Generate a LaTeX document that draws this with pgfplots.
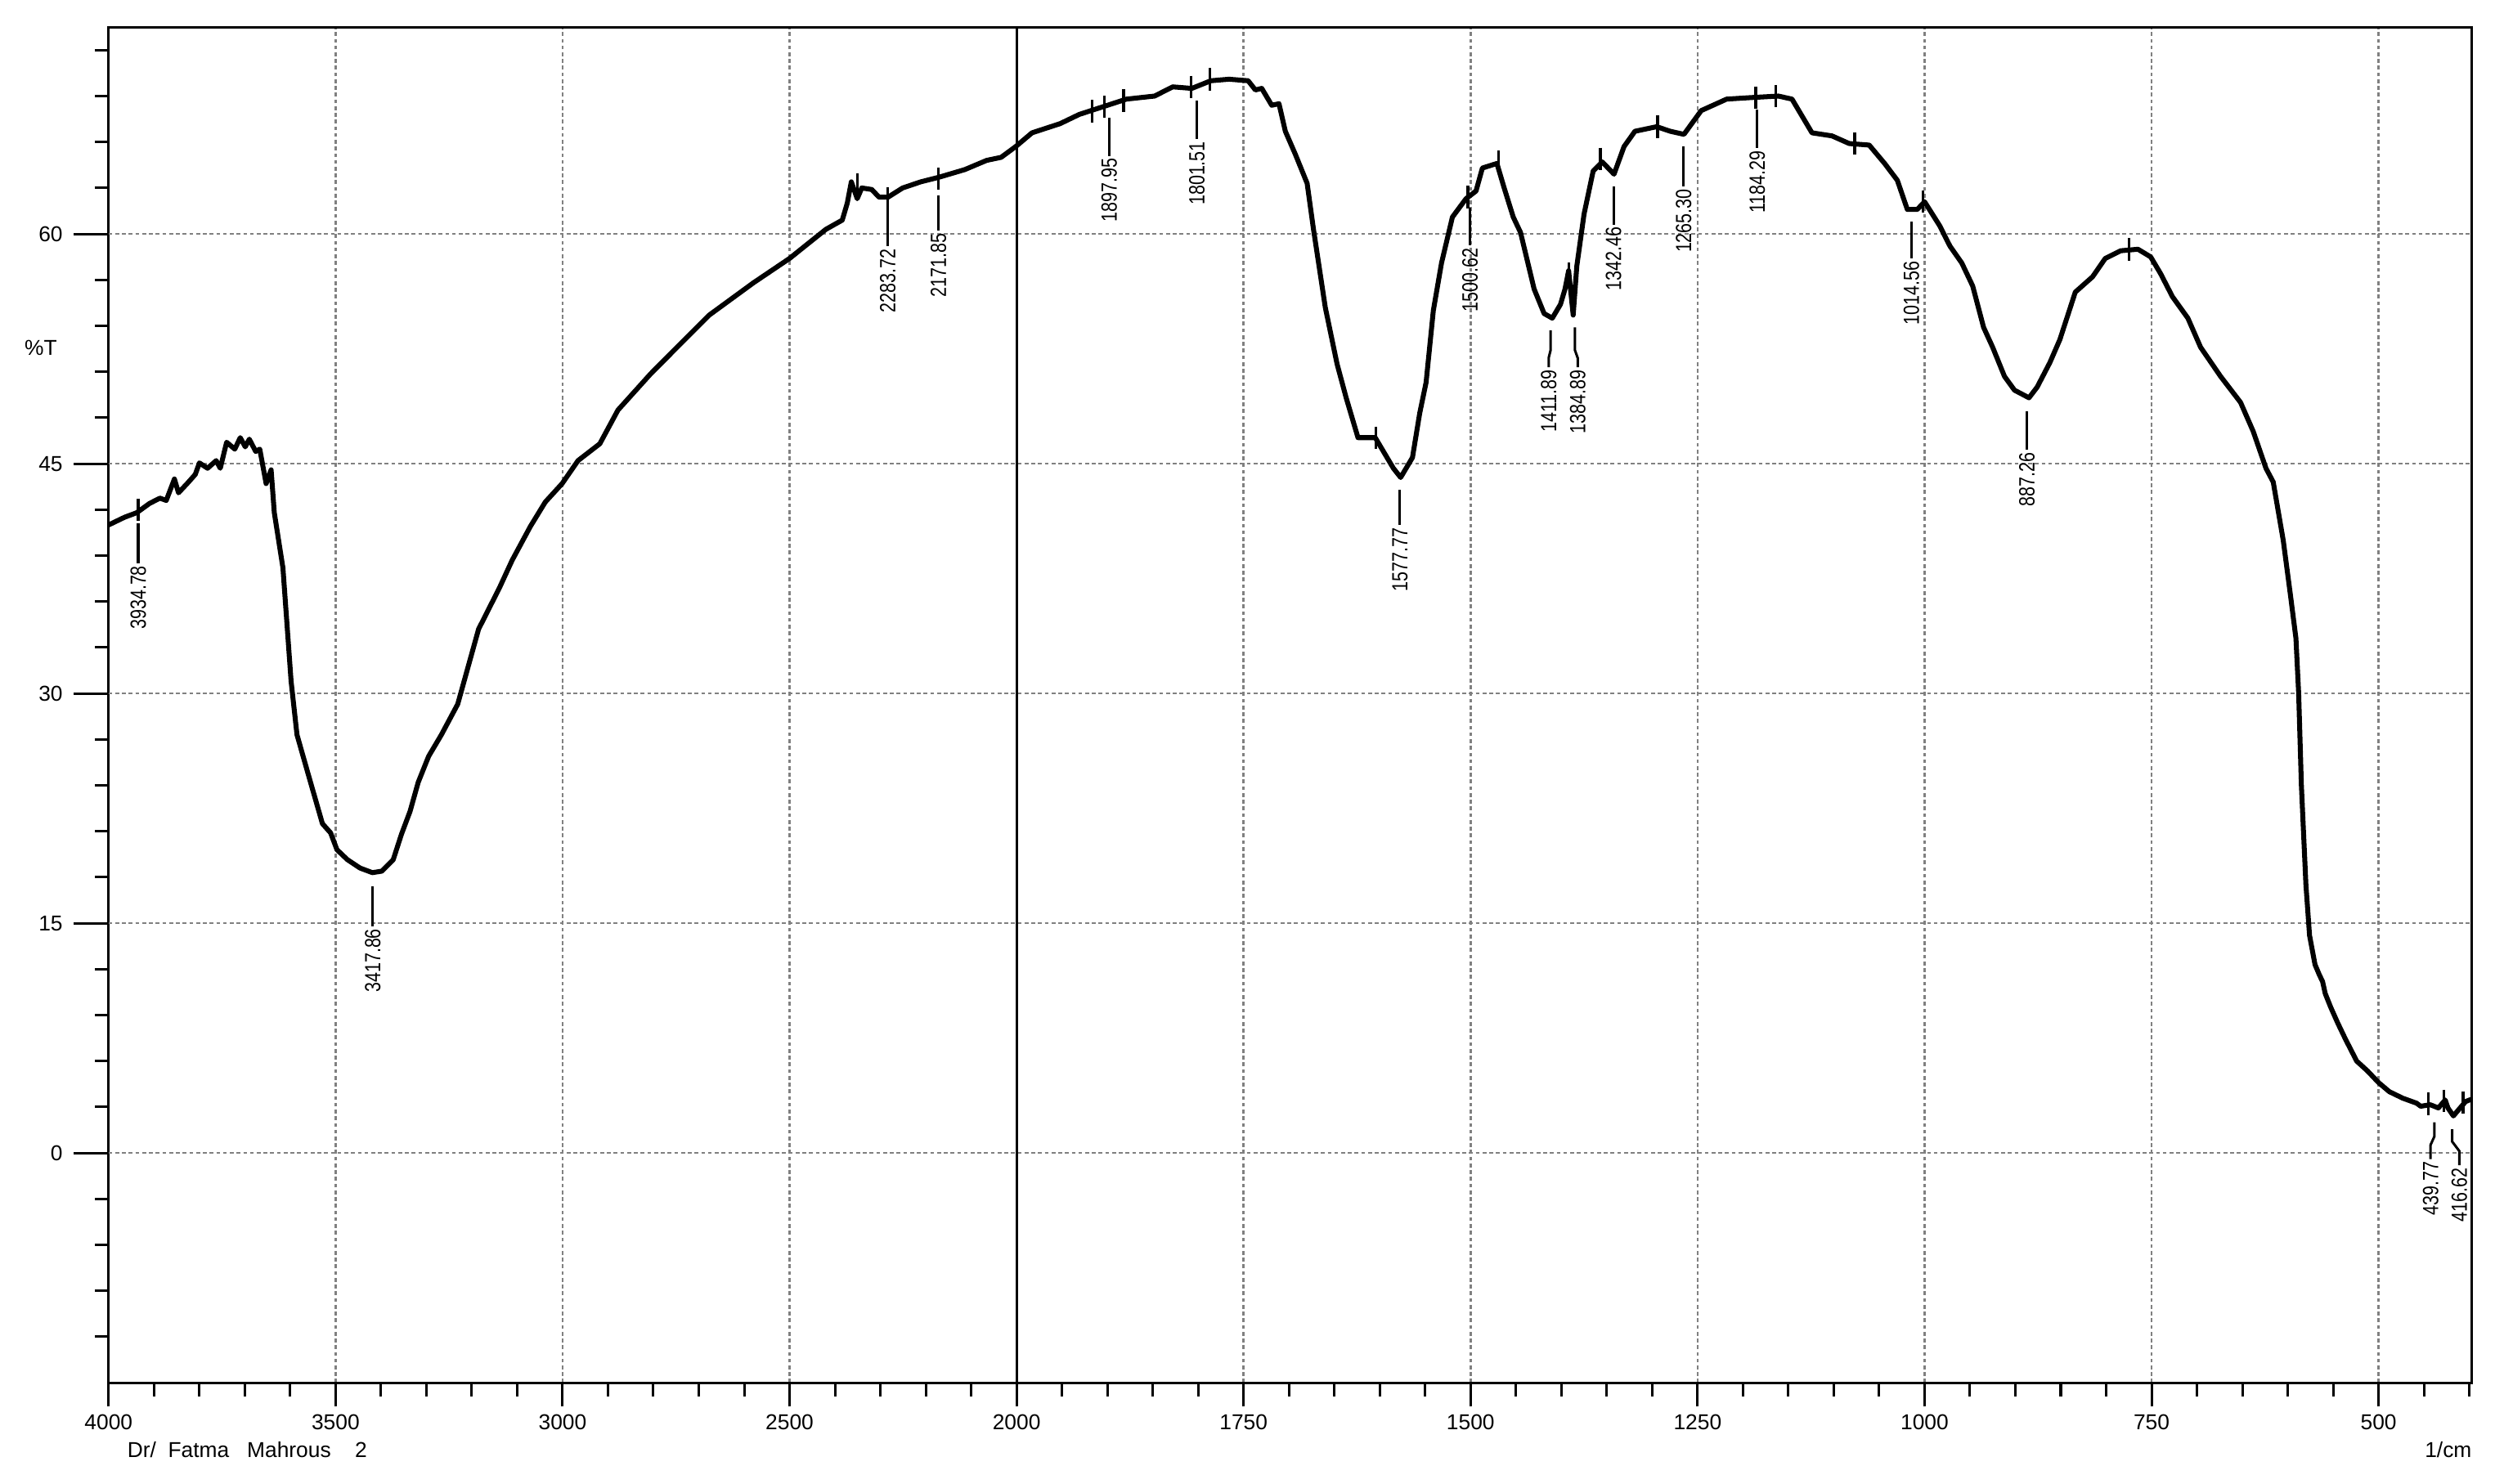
\documentclass[border=0pt]{standalone}
\usepackage{pgfplots}
\pgfplotsset{compat=1.18}
\usepackage{graphicx}
\usepackage{fontspec}
\setmainfont{Liberation Sans}

\newcommand\tickfont{\fontsize{9.6pt}{11pt}\selectfont}
\newcommand\pkfont{\fontsize{9.8pt}{11pt}\selectfont}
% peak leader line + rotated wavenumber label
\newcommand\pk[4]{%
  \draw[line width=1.1pt] (axis cs:#1,#2) -- (axis cs:#1,#3)
    node[rotate=90, anchor=east, inner sep=0.6pt, font=\pkfont] {\scalebox{0.8}[1]{#4}};}

\begin{document}
\begin{tikzpicture}
\begin{axis}[
    scale only axis,
    width=37cm, height=21.225cm,
    x coord trafo/.code={\pgfmathparse{ifthenelse(#1>=2000,(4000-#1)/2,3000-#1)}},
    xmin=4000, xmax=397,
    ymin=-15, ymax=73.5,
    axis line style={line width=1.1pt},
    tick align=outside,
    xtick pos=bottom, ytick pos=left,
    xtick={4000,3500,3000,2500,2000,1750,1500,1250,1000,750,500},
    xticklabels={4000,3500,3000,2500,2000,1750,1500,1250,1000,750,500},
    minor xtick={3900,3800,3700,3600,3400,3300,3200,3100,2900,2800,2700,2600,2400,2300,2200,2100,
      1950,1900,1850,1800,1700,1650,1600,1550,1450,1400,1350,1300,1200,1150,1100,1050,
      950,900,850,800,700,650,600,550,450,400},
    ytick={0,15,30,45,60},
    minor ytick={-12,-9,-6,-3,3,6,9,12,18,21,24,27,33,36,39,42,48,51,54,57,63,66,69,72},
    extra y ticks={0,15,30,45,60},
    extra y tick labels={},
    extra y tick style={major tick length=0.55cm},
    major tick length=0.375cm,
    minor tick length=0.21cm,
    every tick/.style={black, line width=1.1pt},
    xmajorgrids, ymajorgrids,
    major grid style={color=black!50, dash pattern=on 1.7pt off 1.3pt, line width=0.95pt},
    /pgf/number format/assume math mode=true,
    tick label style={font=\tickfont},
    yticklabel style={xshift=-0.22cm},
]

% transmittance spectrum
\addplot[black, line width=2.2pt, line join=round] coordinates {
(4000,41.0) (3993,41.1) (3965,41.5) (3938,41.8) (3910,42.4) (3887,42.75) (3873,42.6)
(3855,44.0) (3846,43.1) (3827,43.7) (3809,44.3) (3800,45.05) (3782,44.7) (3763,45.2)
(3754,44.7) (3740,46.4) (3722,45.95) (3710,46.7) (3699,46.1) (3690,46.6) (3676,45.8)
(3667,45.95) (3653,43.7) (3642,44.6) (3635,41.8) (3616,38.2) (3598,30.8) (3585,27.3)
(3561,24.8) (3529,21.5) (3511,20.9) (3497,19.8) (3474,19.15) (3446,18.6) (3419,18.3)
(3398,18.4) (3373,19.15) (3355,20.8) (3336,22.3) (3318,24.2) (3295,25.9) (3267,27.3)
(3231,29.3) (3185,34.2) (3139,36.9) (3111,38.7) (3071,40.9) (3038,42.5) (3001,43.7)
(2966,45.2) (2918,46.3) (2878,48.5) (2805,50.9) (2741,52.8) (2677,54.7) (2580,56.8)
(2500,58.4) (2420,60.3) (2384,60.9) (2373,62.0) (2364,63.4) (2351,62.3) (2341,63.0)
(2319,62.9) (2303,62.4) (2283,62.4) (2251,63.0) (2211,63.4) (2171,63.7) (2114,64.2)
(2066,64.8) (2034,65.0) (2002,65.7) (1983,66.6) (1952,67.2) (1931,67.8) (1905,68.3)
(1879,68.8) (1848,69.0) (1828,69.6) (1807,69.5) (1786,70.0) (1766,70.1) (1745,70.0)
(1737,69.4) (1730,69.5) (1719,68.4) (1711,68.5) (1704,66.7) (1693,65.2) (1680,63.3)
(1673,60.3) (1660,55.2) (1647,51.5) (1637,49.3) (1624,46.7) (1605,46.7) (1595,45.7)
(1585,44.7) (1577,44.1) (1564,45.4) (1556,48.3) (1549,50.3) (1541,55.0) (1532,58.1)
(1520,61.1) (1505,62.3) (1494,62.8) (1487,64.3) (1471,64.6) (1463,63.0) (1453,61.1)
(1445,60.1) (1430,56.4) (1419,54.8) (1410,54.5) (1401,55.4) (1396,56.4) (1392,57.6)
(1387,54.7) (1383,57.9) (1375,61.3) (1365,64.1) (1355,64.7) (1342,63.9) (1331,65.7)
(1319,66.7) (1295,67.0) (1280,66.7) (1265,66.5) (1246,68.05) (1218,68.8) (1191,68.9)
(1161,69.0) (1146,68.8) (1124,66.6) (1102,66.4) (1083,65.9) (1061,65.8) (1044,64.6)
(1030,63.5) (1019,61.6) (1008,61.6) (1000,62.1) (983,60.5) (972,59.2) (959,58.1)
(947,56.6) (935,53.9) (925,52.6) (912,50.7) (901,49.8) (885,49.3) (876,50.0)
(862,51.6) (851,53.1) (834,56.2) (815,57.2) (801,58.4) (784,58.9) (765,59.0)
(751,58.5) (740,57.4) (727,55.9) (710,54.5) (696,52.6) (674,50.7) (652,49.0)
(638,47.1) (624,44.7) (616,43.8) (605,40.0) (597,36.4) (591,33.6) (588,30.0)
(585,24.0) (580,17.5) (576,14.2) (570,12.3) (565,11.6) (561.7,11.2) (558.7,10.4)
(552.6,9.5) (545.1,8.5) (536.2,7.4) (524.1,6.0) (512.1,5.35) (500.1,4.6) (488.1,4.0)
(473.1,3.57) (458.1,3.25) (453.6,3.05) (443.1,3.15) (434.1,2.94) (426.6,3.46)
(423.6,2.94) (417.6,2.42) (411.6,2.84) (404.1,3.36) (398,3.5)
};

% peak-pick tick marks on the trace
\addplot[only marks, mark=|, mark size=5pt, mark options={line width=1.2pt}] coordinates {
(3934.78,42.0) (2351,63.2) (2283.72,62.3) (2171.85,63.6) (1917,68.0) (1903,68.3)
(1882,68.7) (1808,69.6) (1787,70.1) (1604,46.7) (1503,62.4) (1469,64.7) (1392,57.4)
(1357,64.9) (1294,67.0) (1186,68.9) (1164,69.0) (1077,65.9) (1002,62.1) (775,59.0)
(445,3.2) (428,3.4) (407,3.3)
};

\draw[black, line width=1.1pt] (axis cs:2000,-15) -- (axis cs:2000,73.5);

\pk{3934.78}{41.1}{38.5}{3934.78}
\pk{3417.86}{17.4}{14.8}{3417.86}
\pk{2283.72}{61.9}{59.2}{2283.72}
\pk{2171.85}{62.5}{60.2}{2171.85}
\pk{1897.95}{67.6}{65.1}{1897.95}
\pk{1801.51}{68.7}{66.2}{1801.51}
\pk{1577.77}{43.3}{41.0}{1577.77}
\pk{1500.62}{61.7}{59.25}{1500.62}
\pk{1342.46}{63.1}{60.6}{1342.46}
\pk{1265.30}{65.7}{63.1}{1265.30}
\pk{1184.29}{68.1}{65.6}{1184.29}
\pk{1014.56}{60.8}{58.4}{1014.56}
\pk{887.26}{48.4}{45.9}{887.26}
% bent leaders
\draw[line width=1.1pt] (axis cs:1411.89,53.7) -- (axis cs:1411.89,52.4) -- (axis cs:1414,51.9)
  -- (axis cs:1414,51.3) node[rotate=90, anchor=east, inner sep=0.6pt, font=\pkfont] {\scalebox{0.8}[1]{1411.89}};
\draw[line width=1.1pt] (axis cs:1385,53.9) -- (axis cs:1385,52.4) -- (axis cs:1382,51.9)
  -- (axis cs:1382,51.3) node[rotate=90, anchor=east, inner sep=0.6pt, font=\pkfont] {\scalebox{0.8}[1]{1384.89}};
\draw[line width=1.1pt] (axis cs:438.6,2.0) -- (axis cs:438.6,1.07) -- (axis cs:442.7,0.53)
  -- (axis cs:442.7,-0.4) node[rotate=90, anchor=east, inner sep=0.6pt, font=\pkfont] {\scalebox{0.8}[1]{439.77}};
\draw[line width=1.1pt] (axis cs:419,1.55) -- (axis cs:419,0.75) -- (axis cs:411,0.12)
  -- (axis cs:411,-0.8) node[rotate=90, anchor=east, inner sep=0.6pt, font=\pkfont] {\scalebox{0.8}[1]{416.62}};
\end{axis}

\node[font=\tickfont] at ([shift={(-1.06cm,16.2cm)}]current axis.south west) {\%T};
\node[font=\tickfont, anchor=west] at ([shift={(0.17cm,-1.05cm)}]current axis.south west) {Dr/\ \ Fatma\ \ \ Mahrous\ \ \ \ 2};
\node[font=\tickfont, anchor=east, inner sep=0pt] at ([shift={(0cm,-1.05cm)}]current axis.south east) {1/cm};
\path ([shift={(-1.7cm,-1.575cm)}]current axis.south west) rectangle ([shift={(0.5cm,0.425cm)}]current axis.north east);
\end{tikzpicture}
\end{document}
